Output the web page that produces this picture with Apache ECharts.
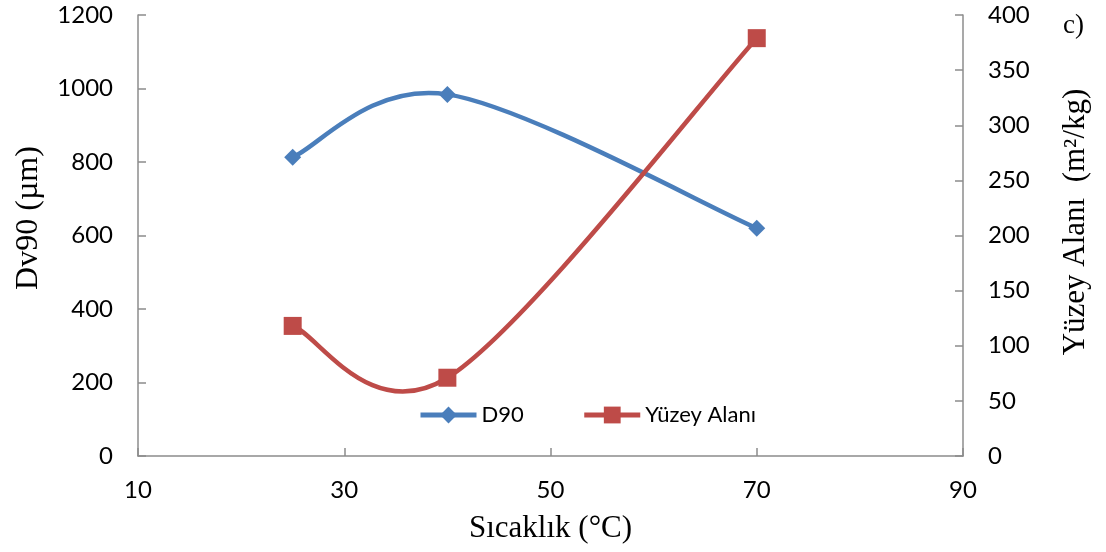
<!DOCTYPE html>
<html>
<head>
<meta charset="utf-8">
<script src="https://cdn.jsdelivr.net/npm/echarts@6/dist/echarts.min.js"></script>
<style>
  html, body { margin: 0; padding: 0; background: #fff; }
  #chart { width: 1106px; height: 552px; }
</style>
</head>
<body>
<div id="chart"></div>
<script>
// Temperature (°C) at each measurement
const temperatures = [25, 40, 70];
// D90 particle size (µm)
const d90Values = [813, 984, 620];
// Surface area (m²/kg)
const surfaceArea = [118, 71, 379];

const xTicks = { min: 10, max: 90, interval: 20 };
const leftTicks = { min: 0, max: 1200, interval: 200 };
const rightTicks = { min: 0, max: 400, interval: 50 };

const blue = '#4a7ebb';
const red = '#be4b48';
const labelFont = 'Lato, "Open Sans", sans-serif';
const titleFont = '"Liberation Serif", "DejaVu Serif", serif';
const axisGray = '#8c8c8c';

const pairs = (xs, ys) => xs.map((x, i) => [x, ys[i]]);

// Cardinal spline (tension 1/6) through the projected points, drawn as cubic beziers
function splinePath(pts) {
  const n = pts.length;
  const d = ['M' + pts[0][0] + ' ' + pts[0][1]];
  for (let i = 0; i < n - 1; i++) {
    const p0 = pts[Math.max(i - 1, 0)];
    const p1 = pts[i];
    const p2 = pts[i + 1];
    const p3 = pts[Math.min(i + 2, n - 1)];
    const c1x = p1[0] + (p2[0] - p0[0]) / 6;
    const c1y = p1[1] + (p2[1] - p0[1]) / 6;
    const c2x = p2[0] - (p3[0] - p1[0]) / 6;
    const c2y = p2[1] - (p3[1] - p1[1]) / 6;
    d.push('C' + c1x + ' ' + c1y + ' ' + c2x + ' ' + c2y + ' ' + p2[0] + ' ' + p2[1]);
  }
  return d.join(' ');
}

// Smooth connecting curve for one series (kept out of the legend)
function curveSeries(id, values, axisIndex, color) {
  return {
    id: id,
    type: 'custom',
    yAxisIndex: axisIndex,
    data: pairs(temperatures, values),
    silent: true,
    renderItem: function (params, api) {
      if (params.dataIndexInside !== 0) return null;
      const pts = temperatures.map((t, i) => api.coord([t, values[i]]));
      return {
        type: 'path',
        shape: { pathData: splinePath(pts) },
        style: { fill: null, stroke: color, lineWidth: 4.5, lineCap: 'round', lineJoin: 'round' }
      };
    }
  };
}

// Data point markers
function markerSeries(name, values, axisIndex, color, symbol, size) {
  return {
    name: name,
    type: 'line',
    yAxisIndex: axisIndex,
    data: pairs(temperatures, values),
    symbol: symbol,
    symbolSize: size,
    z: 5,
    lineStyle: { color: color, width: 4.5, opacity: 0 },
    itemStyle: { color: color }
  };
}

const chart = echarts.init(document.getElementById('chart'));

const axisCommon = {
  axisLine: { show: true, lineStyle: { color: axisGray, width: 1.5 } },
  axisTick: { show: true, inside: true, length: 8, lineStyle: { color: axisGray, width: 1.5 } },
  splitLine: { show: false },
  axisLabel: { color: '#000', fontFamily: labelFont, fontSize: 24, margin: 25, formatter: v => String(v) },
  nameTextStyle: { color: '#000', fontFamily: titleFont, fontSize: 31 }
};

chart.setOption({
  animation: false,
  grid: { left: 138, right: 143, top: 15, bottom: 96 },
  legend: {
    left: 413,
    top: 399,
    itemWidth: 56,
    itemHeight: 21,
    itemGap: 58,
    textStyle: { fontFamily: labelFont, fontSize: 22, color: '#000' },
    data: [
      { name: 'D90', lineStyle: { color: blue, width: 5, opacity: 1 } },
      { name: 'Yüzey Alanı', lineStyle: { color: red, width: 5, opacity: 1 } }
    ]
  },
  graphic: [
    {
      type: 'text',
      x: 29, y: 218,
      rotation: Math.PI / 2,
      style: { text: 'Dv90 (µm)', font: '32px ' + titleFont, fill: '#000', align: 'center', verticalAlign: 'middle' }
    },
    {
      type: 'text',
      x: 1076, y: 222,
      rotation: Math.PI / 2,
      style: { text: 'Yüzey Alanı  (m²/kg)', font: '31px ' + titleFont, fill: '#000', align: 'center', verticalAlign: 'middle' }
    },
    {
      type: 'text',
      right: 22,
      top: 12,
      style: { text: 'c)', font: '27px ' + titleFont, fill: '#000' }
    }
  ],
  xAxis: Object.assign({}, axisCommon, {
    type: 'value',
    min: xTicks.min, max: xTicks.max, interval: xTicks.interval,
    axisLabel: Object.assign({}, axisCommon.axisLabel, { margin: 22 }),
    name: 'Sıcaklık (°C)',
    nameLocation: 'middle',
    nameGap: 57
  }),
  yAxis: [
    Object.assign({}, axisCommon, {
      type: 'value',
      position: 'left',
      min: leftTicks.min, max: leftTicks.max, interval: leftTicks.interval
    }),
    Object.assign({}, axisCommon, {
      type: 'value',
      position: 'right',
      min: rightTicks.min, max: rightTicks.max, interval: rightTicks.interval
    })
  ],
  series: [
    curveSeries('d90-curve', d90Values, 0, blue),
    curveSeries('surface-curve', surfaceArea, 1, red),
    markerSeries('D90', d90Values, 0, blue, 'diamond', 17),
    markerSeries('Yüzey Alanı', surfaceArea, 1, red, 'rect', 18)
  ]
});
</script>
</body>
</html>
